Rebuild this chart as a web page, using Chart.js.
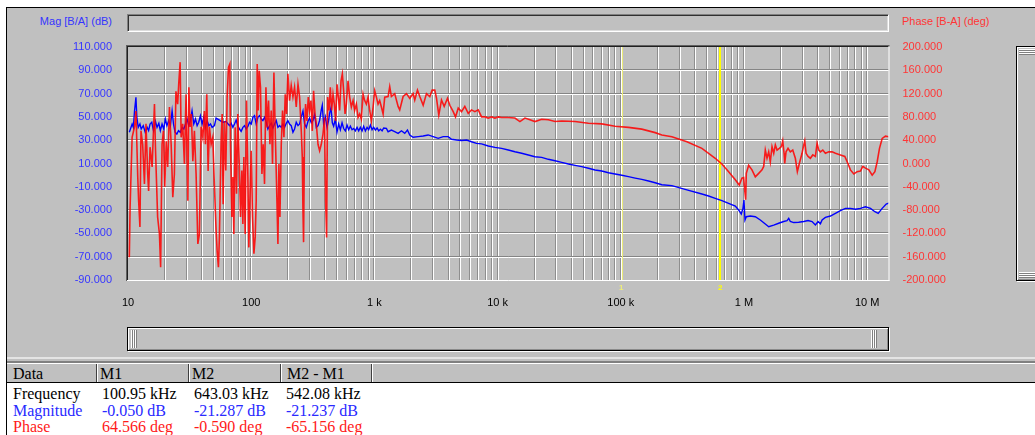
<!DOCTYPE html>
<html>
<head>
<meta charset="utf-8">
<title>Gain / Phase</title>
<script src="https://cdn.jsdelivr.net/npm/chart.js@4.4.1/dist/chart.umd.min.js"></script>
<style>
  html, body { margin:0; padding:0; background:#ffffff; }
  #page { position:relative; width:1035px; height:435px; overflow:hidden; background:#ffffff; }
  .abs { position:absolute; }
  #panel { left:7px; top:8px; width:1028px; height:375px; background:#c0c0c0; }
  #edgeTop { left:6px; top:7px; width:1029px; height:1px; background:#000; }
  #edgeLeft { left:6px; top:7px; width:1px; height:428px; background:#000; }
  .sunken { box-sizing:border-box; border-top:1px solid #808080; border-left:1px solid #808080;
            border-bottom:1px solid #ffffff; border-right:1px solid #ffffff;
            box-shadow: inset 1px 1px 0 #303030, inset -1px -1px 0 #dcdcdc; }
  #topBar { left:127px; top:14px; width:762px; height:18px; }
  .track { box-sizing:border-box; border:1px solid #000;
           box-shadow: inset 1px 1px 0 #ffffff, inset -1px -1px 0 #8a8a8a, 1px 1px 0 #ffffff; }
  #hScroll { left:127px; top:327px; width:762px; height:24px; }
  #vScroll { left:1016px; top:46px; width:30px; height:235px; }
  .gripV { background: repeating-linear-gradient(to right, #ffffff 0 1px, #808080 1px 2px); }
  .gripH { background: repeating-linear-gradient(to bottom, #ffffff 0 1px, #808080 1px 2px); }
  .axisTitle { font: 11px "Liberation Sans", Arial, sans-serif; white-space:nowrap; line-height:13px; }
  #magTitle { left:0; width:112px; text-align:right; top:15px; color:#3535ff; }
  #phaseTitle { left:902px; top:15px; color:#ff3535; }
  #sepLight { left:7px; top:357px; width:1028px; height:2px; background:#e4e4e4; }
  #sepDark { left:7px; top:361px; width:1028px; height:2px; background:#808080; }
  #header { left:7px; top:363px; width:1028px; height:20px; box-sizing:border-box;
            background:#c0c0c0; border-top:1px solid #ffffff; border-bottom:1px solid #000000; }
  .cellText { font: 16px "Liberation Serif", "Times New Roman", serif; white-space:nowrap; line-height:17px; }
  .divDark { width:1px; height:18px; background:#404040; top:364px; }
  .divLight { width:1px; height:18px; background:#ffffff; top:364px; }
  #chart { position:absolute; left:0; top:0; }
</style>
</head>
<body>
<div id="page">
  <div id="panel" class="abs"></div>
  <div id="edgeTop" class="abs"></div>
  <div id="edgeLeft" class="abs"></div>

  <div id="topBar" class="abs sunken"></div>
  <div id="magTitle" class="abs axisTitle">Mag [B/A] (dB)</div>
  <div id="phaseTitle" class="abs axisTitle">Phase [B-A] (deg)</div>

  <div id="hScroll" class="abs track"></div>
  <div class="abs gripV" style="left:131px;top:330px;width:6px;height:18px;"></div>
  <div class="abs gripV" style="left:871px;top:330px;width:6px;height:18px;"></div>

  <div id="vScroll" class="abs track"></div>
  <div class="abs gripH" style="left:1019px;top:49px;width:20px;height:6px;"></div>
  <div class="abs gripH" style="left:1019px;top:272px;width:20px;height:6px;"></div>

  <div id="sepLight" class="abs"></div>
  <div id="sepDark" class="abs"></div>
  <div id="header" class="abs"></div>
  <div id="table"></div>

  <canvas id="chart" width="1035" height="320"></canvas>
</div>

<script>
// ---- Sweep data: magnitude (dB) of B/A ----
const magFreqHz = [
  10.25, 10.8, 11.05, 11.3, 11.6, 11.8, 12.1, 12.5, 12.8, 13.3, 13.8, 14.3, 14.7, 15.1, 15.6,
  16.1, 16.7, 17.2, 17.8, 18.3, 18.9, 19.5, 20.1, 20.7, 21.4, 22.1, 22.8, 23.4, 24.1, 24.9,
  25.7, 26.6, 27.5, 28.4, 29.3, 30.2, 31.1, 32.1, 33.1, 34.2, 35.3, 36.4, 37.5, 38.7, 40.0,
  41.2, 42.5, 43.9, 45.3, 46.7, 48.2, 50.3,
  51.9, 55.2, 58.8, 62.6, 66.6, 68.8, 71.0, 73.2, 75.5, 77.9, 80.3, 82.9, 85.6, 88.3, 91.1,
  94.0, 96.9, 100, 103.2, 106.4, 109.8, 113.3, 116.9, 120.6, 124.4, 128.3, 132.4, 136.6, 141,
  145.4, 150, 154.8, 159.7, 164.8, 170, 175.4, 180.9, 186.6, 192.6, 198.6, 204.8, 211.3, 218.2,
  224.9, 232.1, 239.8, 247.1,
  255, 263.2, 271.2, 280, 288.8, 297.8, 307.4, 317.3, 327.1, 337.7, 348.6, 359.3, 370.7, 377.7,
  387.1, 399.6, 412.5, 425.1, 433.1, 444.6, 455.6, 466.8, 481.9, 497.5, 512.8, 529.3, 546.4,
  563, 581.2, 599.8, 618.1, 638.2, 658.8, 678.9, 700.7, 723.4, 745.5, 769.5, 794.3, 818.5, 845,
  872.4, 898.8, 928, 957.8, 987, 1019, 1052, 1084, 1119, 1155, 1190,
  1252, 1292, 1374, 1462, 1558, 1658, 1764, 1855, 1937, 2064, 2266, 2489, 2731, 3001, 3296,
  3618, 3974, 4227, 4642, 5098, 5598, 6145, 6750, 7413, 8404, 9506, 10780, 12220, 13820, 15680,
  17760, 20110, 22790, 25830, 29290, 33150, 37560, 42540, 48190, 54620, 61830, 70050, 79430,
  89890, 101900, 115500, 130800, 148100, 168000, 190100, 215400, 259800, 344100,
  455500, 516300, 584500, 662300, 750600, 850100, 904700, 950600, 981500, 1000000, 1019000,
  1044700, 1126000, 1236000, 1357000, 1490000, 1588000, 1744000, 1913000, 2101000, 2236000,
  2308000, 2379000, 2534000, 2782000, 3057000, 3314000, 3571000, 3799000, 3995000, 4174000,
  4306000, 4581000, 5034000, 5525000, 6066000, 6665000, 7315000, 8035000, 8820000, 9687000,
  10640000, 11550000, 12290000, 13240000, 14270000, 15180000
];
const magDb = [
  36.8, 43.9, 41, 55.3, 66.8, 49.6, 41, 43.9, 39.6, 42.5, 36.8, 41, 38.2, 43.9, 45.4,
  38.2, 46.2, 41, 44.5, 38.2, 43.9, 39.6, 48.2, 42.5, 46.8, 42.5, 55.3, 43.9, 36.8, 35.3,
  38.2, 36.8, 41, 39.6, 43.9, 48.2, 42.5, 46.8, 55.3, 43.9, 48.2, 42.5, 45.4, 51, 43.9,
  49.6, 41, 46.8, 42.5, 43.9, 41, 42.5,
  49, 47.3, 45.4, 46, 42.5, 44.5, 41, 43.9, 47.3, 42.5, 39.6, 37.6, 41, 42.5, 39.6,
  41.8, 45.4, 43.9, 49.6, 51, 43.9, 49.6, 51, 48.2, 46.8, 49.6, 45.4, 39.6, 42.5,
  44.5, 40.4, 43.9, 46.8, 41, 42.5, 41, 43.9, 41, 44.5, 46.8, 43.9, 42.5, 36.8,
  39.6, 45.4, 42.5, 43.9,
  50, 55, 44, 41, 46, 49, 45, 47, 52, 41, 42.5, 47, 56, 60,
  44, 50, 41, 47, 53, 58, 45, 42, 48, 37, 44, 39, 45,
  40, 38, 43, 39, 42, 39, 40, 38, 41, 38, 41, 38, 42, 38,
  41, 39, 43, 39, 41, 38.7, 40.5, 38, 39.5, 38, 40.5,
  40.2, 37.3, 38.7, 37.3, 35.9, 38.1, 35.9, 38.7, 34.5, 32.5, 33.1, 33.6, 34.5, 33.1, 31.6,
  33.1, 33.1, 30.8, 30.2, 29.7, 30.2, 28.7, 27.3, 26.8, 25, 23.8, 23, 21.6, 20.1, 18.8,
  17.3, 15.8, 15.3, 13.6, 12.4, 11, 9.6, 8.4, 7.3, 5.9, 4.4, 3.6, 2.1,
  1, -0.1, -1.3, -2.5, -3.6, -5, -6.5, -8.2, -9, -12.7,
  -16.2, -17.9, -19.9, -21.9, -24.2, -26.5, -29.9, -33.4, -28.5, -21.3, -38.5,
  -35.7, -35.1, -35.7, -38.5, -42, -44.3, -42.9, -41.3, -39.8, -39,
  -37.1, -39.8, -40.7, -40.4, -39.8, -39, -39.8, -42.8, -39.8, -41.8,
  -38.5, -36.3, -35.1, -32.8, -30.5, -28.5, -28.5, -29.3, -28.5, -27.1,
  -28.5, -31.4, -32.8, -28.5, -24.8, -23.7
];

// ---- Sweep data: phase (deg) of B-A ----
const phaseFreqHz = [
  10.25, 10.4, 10.8, 11.3, 11.6, 12.0, 12.2, 12.5, 12.75, 13.15, 13.6, 14.0, 14.45, 14.7, 15.1,
  15.7, 16.4, 16.7, 17.4, 18.0, 18.4, 18.9, 19.4, 19.9, 20.4, 21.0, 21.7, 22.4, 23.1, 23.8,
  24.5, 25.3, 25.8, 26.5, 27.0, 27.8, 28.7, 29.6, 30.6, 31.2, 31.9, 32.7, 33.6, 34.6, 35.7,
  36.9, 38.0, 39.2, 40.5, 41.7, 42.5, 43.6, 44.7, 45.8, 47.3, 48.8, 50.3,
  51.9, 52.9, 54.2, 55.2, 57.0, 58.1, 59.2, 60.7, 62.2, 63.8, 65.4, 67.1, 67.9, 69.7, 71.0,
  72.3, 74.1, 76.0, 77.9, 79.9, 81.9, 84.0, 85.6, 87.2, 89.4, 91.6, 94.0, 95.7, 97.6, 100,
  102.5, 105.2, 107.8, 109.8, 111.9, 114.0, 116.2, 119.0, 122.2, 125.2, 128.3, 131.7, 134.9,
  138.3, 141.9, 145.4, 149.0, 152.9, 156.7, 160.6, 164.8, 167.9, 171.1, 175.4, 179.7, 184.4,
  188.9, 193.6, 198.6, 204.8, 211.3, 218.2, 224.9, 232.1, 239.8, 247.1,
  255, 259.8, 263.2, 266.2, 271.2, 276.3, 283.6, 290.6, 297.8, 305.7, 313.3, 321, 329.6, 337.7,
  348.6, 359.3, 370.7, 382.8, 394.5, 401.8, 409.3, 417, 428.2, 438.8, 449.6, 461.5, 472.9,
  484.6, 497.5, 509.8, 522.4, 536.2, 549.4, 563, 577.9, 592.2, 611, 630, 650.1, 671.2, 691.6,
  714.1, 737, 759.5, 784, 809, 834, 861, 889, 916, 945, 976, 1006, 1038, 1071, 1104, 1140,
  1177, 1213,
  1292, 1332, 1374, 1462, 1558, 1606, 1711, 1820, 1937, 2064, 2126, 2237, 2336, 2489, 2647,
  2815, 2944, 3092, 3192, 3333, 3505, 3686, 3922, 4095, 4363, 4555, 4792, 5098, 5420, 5778,
  6145, 6537, 6966, 7413, 7885, 8404, 8940, 9506, 10130, 10780, 12220, 13820, 15180, 16670,
  18300, 20110, 22790, 25830, 29290, 33150, 42540, 54620, 70050, 89890, 115500, 148100,
  190100, 215400, 259800, 344100,
  455500, 516300, 584500, 662300, 750600, 850100, 915800, 963100, 994500, 1013000, 1032000,
  1044700, 1091500, 1161000, 1236000, 1317000, 1401000, 1446000, 1490000, 1538000, 1588000,
  1636000, 1689000, 1744000, 1797000, 1855000, 1936000, 2011000, 2064000, 2115000, 2142000,
  2195000, 2279000, 2379000, 2488000, 2612000, 2712000, 2815000, 2961000, 3057000, 3115000,
  3192000, 3314000, 3459000, 3618000, 3799000, 3922000, 4048000, 4171000, 4363000, 4581000,
  4881000, 5193000, 5525000, 6066000, 6587000, 6878000, 7315000, 7797000, 8290000, 8820000,
  9226000, 9687000, 10320000, 10980000, 11550000, 12060000, 12590000, 13240000, 14090000,
  15010000, 15580000
];
const phaseDeg = [
  -161, -75, 45, 63, 90, -23, -64, -109, 56, 33, -35, 68, -18, -47, 28,
  -6, 102, 28, -92, -121, -178, 33, 56, -40, 38, -6, 97, 33, -58, -18,
  124, 102, 136, 174, 45, 68, -1, 119, -64, 131, 63, 85, 4, 56, -18,
  -138, -121, 63, 45, 90, 33, 119, -13, 63, 33, 45, -40,
  -115, -150, -178, -126, 39, 85, -70, 73, -12, 114, 165, 171, 33, -92, -23,
  -121, 62, -52, 85, 5, -92, -12, -104, 11, -121, 108, -23, -144, -64, 22,
  -92, -155, -126, -64, 171, 91, 159, 131, -18, 33, -35, 131, 62,
  108, 33, 91, -1, 156, 56, -35, -138, -1, -92, 33, 91, 45,
  119, 85, 154, 108, 134, 114, 131, 97, 136, 114,
  56, 11, -81, -135, 62, 102, 73, 114, 91, 108, 56, 125, 85, 68,
  33, 22, 33, 51, 79, -64, -127, 114, 91, 131, 91, 119, 102,
  73, 136, 114, 91, 142, 154, 125, 85, 102, 142, 114, 97, 108, 91,
  102, 79, 85, 76, 119, 108, 102, 114, 91, 73, 97, 125, 114, 102, 108, 97,
  85, 114,
  115, 132, 115, 120, 98, 92, 115, 120, 112, 120, 109, 126, 115, 100, 120,
  115, 126, 126, 112, 83, 109, 98, 112, 100, 89, 80, 95, 89, 98, 86,
  92, 89, 92, 80, 80, 78, 80, 78, 80, 79, 79, 78, 72, 78,
  75, 72, 76, 75, 72, 73, 72, 69, 68, 64, 62, 59,
  53, 49, 46, 37.5,
  26, 17.5, 9, -1, -14, -28, -37, -25, -24, -45, -62,
  -17, -3, -11, -23, -17, -11, -5, 23, 9, 20,
  3, 29, 17.5, 32, 23, 26, 29, 39, 17.5, 0,
  20, 26, 20, 23, 9, -14, 0, 17.5, 32, 39,
  17.5, 12, 9, 14.7, 12, 35, 23, 20, 23, 17.5,
  20, 20, 17.5, 14.7, 12, 3, -11, -18, -14, -13,
  -5, -8, -11, -20, -14, 3, 26, 43, 47,
  46, 45
];

// ---- Axes ----
const magTicks = { min: -90, max: 110, step: 20 };
const phaseTicks = { min: -200, max: 200, step: 40 };
const freqRange = { min: 10, max: 1.49e7 };
const freqDecades = [10, 100, 1e3, 1e4, 1e5, 1e6, 1e7];
const freqDecadeLabels = ['10', '100', '1 k', '10 k', '100 k', '1 M', '10 M'];

// ---- Cursors and readout ----
const markerIds = ['1', '2'];
const markerFreqHz = [100950, 643030];
const markerColors = ['#ecec78', '#ffff00'];
const readoutHeads = ['Data', 'M1', 'M2', 'M2 - M1'];
const readoutRows = ['Frequency', 'Magnitude', 'Phase'];
const readoutFreq = ['100.95 kHz', '643.03 kHz', '542.08 kHz'];
const readoutMag = ['-0.050 dB', '-21.287 dB', '-21.237 dB'];
const readoutPhase = ['64.566 deg', '-0.590 deg', '-65.156 deg'];

// readout table (header strip + rows)
(function buildTable() {
  const host = document.getElementById('table');
  const colX = [13, 102, 194, 286];
  const headX = [13, 100, 192, 287];
  const dividers = [97, 189, 281, 372];
  dividers.forEach(x => {
    const d = document.createElement('div');
    d.className = 'abs divDark'; d.style.left = (x - 1) + 'px'; host.appendChild(d);
    const l = document.createElement('div');
    l.className = 'abs divLight'; l.style.left = x + 'px'; host.appendChild(l);
  });
  readoutHeads.forEach((t, i) => {
    const e = document.createElement('div');
    e.className = 'abs cellText'; e.textContent = t;
    e.style.left = headX[i] + 'px'; e.style.top = '365px'; e.style.color = '#000';
    host.appendChild(e);
  });
  const rowColors = ['#000000', '#2a2aff', '#ff1a1a'];
  const rowValues = [readoutFreq, readoutMag, readoutPhase];
  const rowTop = [385, 401.5, 418];
  readoutRows.forEach((name, r) => {
    [name].concat(rowValues[r]).forEach((t, c) => {
      const e = document.createElement('div');
      e.className = 'abs cellText'; e.textContent = t;
      e.style.left = colX[c] + 'px'; e.style.top = rowTop[r] + 'px'; e.style.color = rowColors[r];
      host.appendChild(e);
    });
  });
})();

function hline(ctx, x1, x2, y, color) {
  ctx.strokeStyle = color; ctx.beginPath(); ctx.moveTo(x1, y); ctx.lineTo(x2, y); ctx.stroke();
}
function vline(ctx, x, y1, y2, color) {
  ctx.strokeStyle = color; ctx.beginPath(); ctx.moveTo(x, y1); ctx.lineTo(x, y2); ctx.stroke();
}

// etched grid, cursor lines and a sunken frame around the plot
const plotChrome = {
  id: 'plotChrome',
  beforeDatasetsDraw(chart) {
    const { ctx, chartArea: a, scales } = chart;
    const xs = scales.x, ys = scales.yMag;
    ctx.save();
    ctx.lineWidth = 1;
    xs.ticks.forEach(t => {
      const px = Math.round(xs.getPixelForValue(t.value));
      if (px <= a.left + 1 || px >= a.right - 1) return;
      vline(ctx, px - 0.5, a.top, a.bottom, '#8e8e8e');
      vline(ctx, px + 0.5, a.top, a.bottom, '#ffffff');
    });
    ys.ticks.forEach(t => {
      const py = Math.round(ys.getPixelForValue(t.value));
      if (py <= a.top + 1 || py >= a.bottom - 1) return;
      hline(ctx, a.left, a.right, py - 0.5, '#858585');
      hline(ctx, a.left, a.right, py + 0.5, '#ffffff');
    });
    // cursor lines: M1 thin and pale, M2 wider and bright
    const p1 = xs.getPixelForValue(markerFreqHz[0]);
    ctx.lineWidth = 1;
    vline(ctx, Math.ceil(p1) + 0.5, a.top, a.bottom, markerColors[0]);
    const p2 = xs.getPixelForValue(markerFreqHz[1]);
    ctx.lineWidth = 2;
    vline(ctx, Math.round(p2), a.top, a.bottom, markerColors[1]);
    ctx.restore();
  },
  afterDatasetsDraw(chart) {
    const { ctx, chartArea: a, scales } = chart;
    const xs = scales.x;
    ctx.save();
    ctx.lineWidth = 1;
    // sunken border
    hline(ctx, a.left - 2, a.right + 1, a.top - 1.5, '#606060');
    hline(ctx, a.left - 2, a.right + 1, a.top - 0.5, '#202020');
    vline(ctx, a.left - 1.5, a.top - 2, a.bottom + 1, '#606060');
    vline(ctx, a.left - 0.5, a.top - 1, a.bottom + 1, '#202020');
    hline(ctx, a.left - 1, a.right + 1, a.bottom + 0.5, '#ffffff');
    vline(ctx, a.right + 0.5, a.top - 1, a.bottom + 1, '#ffffff');
    // cursor ids under the plot
    ctx.font = 'bold 8px "Liberation Sans", Arial, sans-serif';
    ctx.textAlign = 'center';
    ctx.textBaseline = 'middle';
    markerFreqHz.forEach((f, i) => {
      ctx.fillStyle = markerColors[i];
      ctx.fillText(markerIds[i], xs.getPixelForValue(f), a.bottom + 8);
    });
    ctx.restore();
  }
};

const gridFreqs = [];
freqDecades.forEach(d => {
  for (let m = 1; m <= 9; m++) {
    const v = d * m;
    if (v >= freqRange.min && v <= freqRange.max) gridFreqs.push(v);
  }
});

Chart.defaults.font.family = '"Liberation Sans", Arial, sans-serif';
Chart.defaults.font.size = 11;

new Chart(document.getElementById('chart'), {
  type: 'line',
  data: {
    datasets: [
      {
        label: 'Phase [B-A] (deg)',
        data: phaseFreqHz.map((f, i) => ({ x: f, y: phaseDeg[i] })),
        yAxisID: 'yPhase',
        borderColor: 'rgba(255,0,0,0.86)',
        borderWidth: 1.6,
        pointRadius: 0,
        tension: 0
      },
      {
        label: 'Mag [B/A] (dB)',
        data: magFreqHz.map((f, i) => ({ x: f, y: magDb[i] })),
        yAxisID: 'yMag',
        borderColor: '#0000ff',
        borderWidth: 1.4,
        pointRadius: 0,
        tension: 0
      }
    ]
  },
  options: {
    responsive: false,
    animation: false,
    devicePixelRatio: 1,
    layout: { padding: { top: 47, left: 0, right: 0, bottom: 0 } },
    plugins: { legend: { display: false }, tooltip: { enabled: false } },
    scales: {
      x: {
        type: 'logarithmic',
        min: freqRange.min,
        max: freqRange.max,
        afterBuildTicks: s => { s.ticks = gridFreqs.map(v => ({ value: v })); },
        afterFit: s => { s.height = 40; },
        grid: { display: false, drawTicks: false },
        border: { display: false },
        ticks: {
          autoSkip: false,
          maxRotation: 0,
          minRotation: 0,
          padding: 16,
          color: '#000000',
          callback: v => {
            const i = freqDecades.indexOf(v);
            return i >= 0 ? freqDecadeLabels[i] : '';
          }
        }
      },
      yMag: {
        position: 'left',
        min: magTicks.min,
        max: magTicks.max,
        afterFit: s => { s.width = 128; },
        grid: { display: false, drawTicks: false },
        border: { display: false },
        ticks: { stepSize: magTicks.step, padding: 16, color: '#3535ff', callback: v => Number(v).toFixed(3) }
      },
      yPhase: {
        position: 'right',
        min: phaseTicks.min,
        max: phaseTicks.max,
        afterFit: s => { s.width = 1035 - 888.5; },
        grid: { display: false, drawTicks: false },
        border: { display: false },
        ticks: { stepSize: phaseTicks.step, padding: 14, color: '#ff3535', callback: v => Number(v).toFixed(3) }
      }
    }
  },
  plugins: [plotChrome]
});
</script>
</body>
</html>
